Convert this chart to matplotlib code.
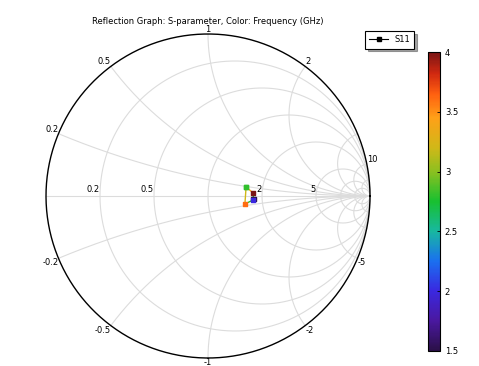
import numpy as np
import matplotlib
matplotlib.use('Agg')
import matplotlib.pyplot as plt
from matplotlib.colors import LinearSegmentedColormap, Normalize
from matplotlib.collections import LineCollection
from matplotlib.lines import Line2D

# data, in drawing order
freq = [2.8, 4.0, 1.5, 2.0, 3.6, 2.8]           # GHz
s11_re = [0.235, 0.278, 0.281, 0.278, 0.228, 0.235]
s11_im = [0.056, 0.019, -0.018, -0.025, -0.049, 0.056]

r_grid = [0.2, 0.5, 1, 2, 5, 10, 20]
x_grid = [0.2, 0.5, 1, 2, 5, 10, 20]
r_labels = [0.2, 0.5, 2, 5]
x_labels = [0.2, 0.5, 1, 2, 10, -0.2, -0.5, -1, -2, -5]

title = 'Reflection Graph: S-parameter, Color: Frequency (GHz)'

# comsol-ish rainbow
cmap = LinearSegmentedColormap.from_list('rainbow_c', [
    (0.00, '#2b1048'), (0.10, '#4a18a0'), (0.20, '#3a28e0'), (0.30, '#1a70f0'),
    (0.40, '#18b8a0'), (0.50, '#18c030'), (0.60, '#8cc020'), (0.68, '#d0b818'),
    (0.78, '#ffa018'), (0.86, '#ff6010'), (0.93, '#d02810'), (1.00, '#7a1515')])
norm = Normalize(1.5, 4.0)

W, H = 479, 366
cx, cy, R = 208, 196, 162
fig = plt.figure(figsize=(W / 100, H / 100), dpi=100)
ax = fig.add_axes([0, 0, 1, 1])
ax.set_xlim(-cx / R, (W - cx) / R)
ax.set_ylim(-(H - cy) / R, cy / R)
ax.axis('off')

grid_c = '#dcdcdc'
t = np.linspace(0, 2 * np.pi, 600)
# resistance circles
for r in r_grid:
    c = r / (r + 1)
    rad = 1 / (r + 1)
    ax.plot(c + rad * np.cos(t), rad * np.sin(t), color=grid_c, lw=0.8, zorder=1)
# reactance arcs
rr = np.concatenate([[0], np.logspace(-3, 5, 800)])
for x in x_grid:
    for s in (1, -1):
        z = rr + 1j * s * x
        g = (z - 1) / (z + 1)
        ax.plot(g.real, g.imag, color=grid_c, lw=0.8, zorder=1)
ax.plot([-1, 1], [0, 0], color=grid_c, lw=0.8, zorder=1)
ax.plot(np.cos(t), np.sin(t), color='black', lw=1.0, zorder=3)

fs = 6
for r in r_labels:
    g = (r - 1) / (r + 1)
    ax.text(g, 0.01, '%g' % r, fontsize=fs, ha='right', va='bottom', zorder=4)
for x in x_labels:
    g = (1j * x - 1) / (1j * x + 1)
    if abs(g.real) < 0.1:
        ha = 'center'
    elif g.real < 0:
        ha = 'right'
    else:
        ha = 'left'
    va = 'bottom' if x > 0 else 'top'
    ax.text(g.real, g.imag, '%g' % x, fontsize=fs, ha=ha, va=va, zorder=4)

# data curve
pts = np.column_stack([s11_re, s11_im])
segs = np.stack([pts[:-1], pts[1:]], axis=1)
fmid = [(freq[i] + freq[i + 1]) / 2 for i in range(len(freq) - 1)]
lc = LineCollection(segs, cmap=cmap, norm=norm, lw=1.0, zorder=5)
lc.set_array(np.array(fmid))
ax.add_collection(lc)
ax.scatter(s11_re, s11_im, c=freq, cmap=cmap, norm=norm, marker='s', s=12, zorder=6)

ax.text(0, (cy - 22) / R, title, fontsize=6, ha='center', va='center')

# legend
h = Line2D([], [], color='black', lw=0.8, marker='s', markersize=2.5)
leg = ax.legend([h], ['S11'], loc='upper left', bbox_to_anchor=(361 / W, 1 - 27 / H),
                fontsize=6, frameon=True, fancybox=False, shadow=True,
                handlelength=2.2, borderpad=0.5)
leg.get_frame().set_edgecolor('black')
leg.get_frame().set_linewidth(0.8)

# colorbar
cax = fig.add_axes([428 / W, 1 - 351 / H, 12 / W, 299 / H])
cb = fig.colorbar(plt.cm.ScalarMappable(norm=norm, cmap=cmap), cax=cax)
cb.set_ticks([1.5, 2, 2.5, 3, 3.5, 4])
cb.set_ticklabels(['1.5', '2', '2.5', '3', '3.5', '4'])
cax.tick_params(labelsize=6, direction='in', length=2, width=0.6)
cb.outline.set_linewidth(0.8)

fig.savefig('out.png', dpi=100)
